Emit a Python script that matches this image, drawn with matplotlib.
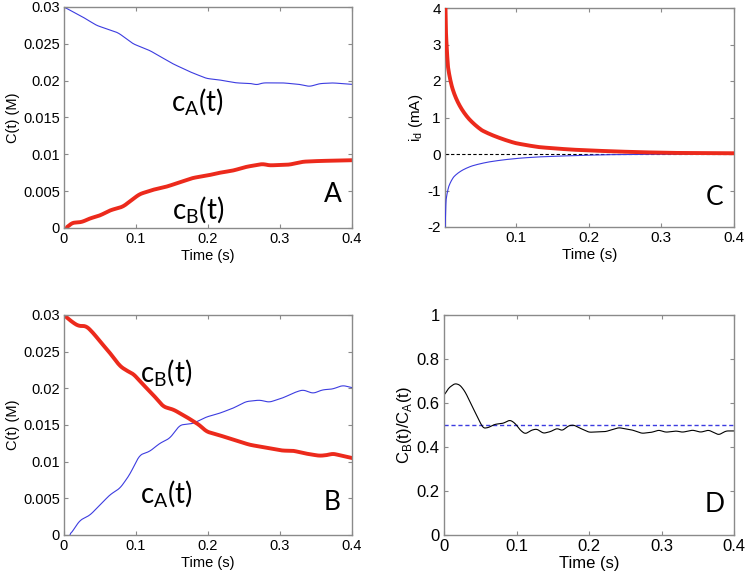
import numpy as np
import matplotlib
matplotlib.use("Agg")
import matplotlib.pyplot as plt

# ---------------- data ----------------
# Panel A
tA_blue = [0.0, 0.0268, 0.0453, 0.0753, 0.096, 0.119, 0.151, 0.175, 0.198, 0.216, 0.239,
           0.262, 0.267, 0.276, 0.304, 0.327, 0.341, 0.355, 0.373, 0.4]
cA_blue = [0.030, 0.0286, 0.0275, 0.0265, 0.0250, 0.0241, 0.0223, 0.0212, 0.0203, 0.0201, 0.0197,
           0.0196, 0.0194, 0.0197, 0.0197, 0.0195, 0.0192, 0.0196, 0.0197, 0.0195]
tA_red = [0.0037, 0.0106, 0.0245, 0.036, 0.05, 0.064, 0.082, 0.094, 0.105, 0.124, 0.142, 0.161,
          0.179, 0.198, 0.216, 0.235, 0.253, 0.276, 0.285, 0.313, 0.332, 0.355, 0.4]
cB_red = [0.0, 0.0007, 0.0008, 0.0013, 0.0017, 0.0024, 0.0029, 0.0038, 0.0046, 0.0052, 0.0056, 0.0062,
          0.0068, 0.0071, 0.0075, 0.0078, 0.0083, 0.0087, 0.0085, 0.0086, 0.0090, 0.0091, 0.0092]

# Panel C
tC_red = [0.0025, 0.0037, 0.0064, 0.0119, 0.021, 0.0349, 0.053, 0.076, 0.099, 0.131, 0.177,
          0.223, 0.269, 0.315, 0.4]
iC_red = [4.5, 3.3, 2.39, 1.84, 1.38, 0.97, 0.65, 0.45, 0.30, 0.19, 0.12, 0.08, 0.05, 0.03, 0.02]
tC_blue = [0.0025, 0.0037, 0.0073, 0.0142, 0.0257, 0.039, 0.062, 0.085, 0.108, 0.131, 0.177,
           0.223, 0.269, 0.4]
iC_blue = [-2.0, -1.27, -0.9, -0.63, -0.45, -0.33, -0.22, -0.155, -0.11, -0.08, -0.046,
           -0.02, -0.01, 0.0]

# Panel B
tB_red = [0.0, 0.0106, 0.0199, 0.031, 0.041, 0.050, 0.064, 0.078, 0.089, 0.096, 0.11, 0.124, 0.138,
          0.152, 0.17, 0.188, 0.198, 0.216, 0.235, 0.258, 0.281, 0.304, 0.318, 0.336, 0.355, 0.366,
          0.373, 0.4]
cB_redB = [0.030, 0.0291, 0.0285, 0.0285, 0.0275, 0.0264, 0.0248, 0.0230, 0.0223, 0.0220, 0.0205,
           0.0191, 0.0175, 0.0171, 0.0161, 0.0150, 0.0141, 0.0136, 0.0130, 0.0123, 0.0119, 0.0115,
           0.0115, 0.0111, 0.0108, 0.0109, 0.0111, 0.0105]
tB_blue = [0.0083, 0.022, 0.036, 0.05, 0.064, 0.078, 0.091, 0.105, 0.119, 0.133, 0.147, 0.161, 0.179,
           0.198, 0.216, 0.235, 0.253, 0.272, 0.285, 0.304, 0.322, 0.332, 0.346, 0.359, 0.373, 0.387, 0.4]
cA_blueB = [0.0, 0.0020, 0.0027, 0.0041, 0.0055, 0.0064, 0.0082, 0.0109, 0.0114, 0.0125, 0.0132,
            0.0150, 0.0152, 0.0161, 0.0166, 0.0173, 0.0182, 0.0184, 0.0181, 0.0187, 0.0195, 0.0198,
            0.0193, 0.0198, 0.0199, 0.0204, 0.0201]

# Panel D
tD = [0.0, 0.006, 0.015, 0.022, 0.029, 0.038, 0.047, 0.054, 0.061, 0.07, 0.082, 0.091, 0.098, 0.105,
      0.112, 0.121, 0.128, 0.137, 0.147, 0.156, 0.163, 0.172, 0.179, 0.186, 0.2, 0.223, 0.241, 0.26,
      0.273, 0.287, 0.296, 0.306, 0.32, 0.329, 0.343, 0.354, 0.365, 0.379, 0.389, 0.4]
ratioD = [0.633, 0.667, 0.689, 0.682, 0.652, 0.591, 0.53, 0.485, 0.488, 0.503, 0.508, 0.523, 0.508,
          0.477, 0.459, 0.477, 0.482, 0.462, 0.47, 0.485, 0.474, 0.497, 0.5, 0.488, 0.467, 0.47,
          0.488, 0.477, 0.462, 0.467, 0.477, 0.467, 0.473, 0.467, 0.477, 0.467, 0.477, 0.455, 0.473, 0.473]
ratio_ref = 0.5

xticks_full = [0, 0.1, 0.2, 0.3, 0.4]
xticklabels_full = ["0", "0.1", "0.2", "0.3", "0.4"]
xticks_C = [0.1, 0.2, 0.3, 0.4]
xticklabels_C = ["0.1", "0.2", "0.3", "0.4"]
yticks_conc = [0, 0.005, 0.01, 0.015, 0.02, 0.025, 0.03]
yticklabels_conc = ["0", "0.005", "0.01", "0.015", "0.02", "0.025", "0.03"]
yticks_C = [-2, -1, 0, 1, 2, 3, 4]
yticklabels_C = ["-2", "-1", "0", "1", "2", "3", "4"]
yticks_D = [0, 0.2, 0.4, 0.6, 0.8, 1]
yticklabels_D = ["0", "0.2", "0.4", "0.6", "0.8", "1"]

# ---------------- style ----------------
RED = "#ec2a1c"
BLUE = "#3c3ce0"
FRAME = "#8a8a8a"
TXTFONT = ["Liberation Sans", "DejaVu Sans"]
ANNFONT = ["Lato", "DejaVu Sans"]

plt.rcParams["font.family"] = TXTFONT

fig = plt.figure(figsize=(7.45, 5.76), dpi=100)


def smooth_line(x, y, n=400):
    x = np.asarray(x, float)
    y = np.asarray(y, float)
    xs = np.linspace(x[0], x[-1], n)
    ys = np.interp(xs, x, y)
    k = 9
    ker = np.ones(k) / k
    ypad = np.concatenate([np.full(k // 2, ys[0]), ys, np.full(k // 2, ys[-1])])
    ys2 = np.convolve(ypad, ker, mode="valid")
    ys2[0] = ys[0]
    ys2[-1] = ys[-1]
    return xs, ys2


def log_line(x, y, n=600):
    # smooth interpolation along log-time for the decaying currents
    x = np.asarray(x, float)
    y = np.asarray(y, float)
    lx = np.log(x)
    ls = np.linspace(lx[0], lx[-1], n)
    ys = np.interp(ls, lx, y)
    k = 5
    ker = np.ones(k) / k
    h = k // 2
    left = ys[0] - (ys[1] - ys[0]) * np.arange(h, 0, -1)
    right = np.full(h, ys[-1])
    ypad = np.concatenate([left, ys, right])
    ys2 = np.convolve(ypad, ker, mode="valid")
    return np.exp(ls), ys2


def style(ax, fs):
    for s in ax.spines.values():
        s.set_color(FRAME)
        s.set_linewidth(1.0)
    ax.tick_params(direction="in", length=3, width=0.8, color=FRAME, top=True, right=True,
                   labelsize=fs, labelcolor="black", pad=3)


# Panel A
axA = fig.add_axes([64 / 745, 1 - 228 / 576, (352 - 64) / 745, (228 - 7) / 576])
x, y = smooth_line(tA_blue, cA_blue)
axA.plot(x, y, color=BLUE, lw=0.8)
x, y = smooth_line(tA_red, cB_red)
axA.plot(x, y, color=RED, lw=2.8)
axA.set_xlim(0, 0.4)
axA.set_ylim(0, 0.03)
axA.set_xticks(xticks_full, xticklabels_full)
axA.set_yticks(yticks_conc, yticklabels_conc)
axA.set_xlabel("Time (s)", fontsize=10.5, labelpad=2)
axA.set_ylabel("C(t) (M)", fontsize=10.5, labelpad=2)
style(axA, 10.5)
axA.text(0.186, 0.0171, r"c$_\mathregular{A}$(t)", fontsize=20, family=ANNFONT, ha="center", va="center")
axA.text(0.186, 0.0024, r"c$_\mathregular{B}$(t)", fontsize=20, family=ANNFONT, ha="center", va="center")
axA.text(0.373, 0.0045, "A", fontsize=19, family=ANNFONT, ha="center", va="center")

# Panel C
axC = fig.add_axes([445 / 745, 1 - 227 / 576, (734 - 445) / 745, (227 - 8) / 576])
axC.axhline(0, color="black", lw=0.8, ls=(0, (3, 2)))
x, y = log_line(tC_blue, iC_blue)
axC.plot(x, y, color=BLUE, lw=0.8, zorder=3)
x, y = log_line(tC_red, iC_red)
axC.plot(x, y, color=RED, lw=2.8, zorder=3)
axC.set_xlim(0.0023, 0.4)
axC.set_ylim(-2, 4)
axC.set_xticks(xticks_C, xticklabels_C)
axC.set_yticks(yticks_C, yticklabels_C)
axC.set_xlabel("Time (s)", fontsize=11, labelpad=2)
axC.set_ylabel(r"i$_\mathregular{d}$ (mA)", fontsize=11, labelpad=2)
style(axC, 11)
axC.text(0.373, -1.2, "C", fontsize=19, family=ANNFONT, ha="center", va="center")

# Panel B
axB = fig.add_axes([64 / 745, 1 - 535 / 576, (352 - 64) / 745, (535 - 315) / 576])
x, y = smooth_line(tB_blue, cA_blueB)
axB.plot(x, y, color=BLUE, lw=0.8)
x, y = smooth_line(tB_red, cB_redB)
axB.plot(x, y, color=RED, lw=2.8)
axB.set_xlim(0, 0.4)
axB.set_ylim(0, 0.03)
axB.set_xticks(xticks_full, xticklabels_full)
axB.set_yticks(yticks_conc, yticklabels_conc)
axB.set_xlabel("Time (s)", fontsize=10.5, labelpad=2)
axB.set_ylabel("C(t) (M)", fontsize=10.5, labelpad=2)
style(axB, 10.5)
axB.text(0.142, 0.022, r"c$_\mathregular{B}$(t)", fontsize=20, family=ANNFONT, ha="center", va="center")
axB.text(0.142, 0.0055, r"c$_\mathregular{A}$(t)", fontsize=20, family=ANNFONT, ha="center", va="center")
axB.text(0.373, 0.0045, "B", fontsize=19, family=ANNFONT, ha="center", va="center")

# Panel D
axD = fig.add_axes([444 / 745, 1 - 535 / 576, (734 - 444) / 745, (535 - 315) / 576])
axD.axhline(ratio_ref, color=BLUE, lw=1.0, ls=(0, (3, 2)))
x, y = smooth_line(tD, ratioD, n=600)
axD.plot(x, y, color="black", lw=0.8)
axD.set_xlim(0, 0.4)
axD.set_ylim(0, 1)
axD.set_xticks(xticks_full, xticklabels_full)
axD.set_yticks(yticks_D, yticklabels_D)
axD.set_xlabel("Time (s)", fontsize=12, labelpad=1)
axD.set_ylabel(r"C$_\mathregular{B}$(t)/C$_\mathregular{A}$(t)", fontsize=12, labelpad=2)
style(axD, 12)
axD.text(0.373, 0.14, "D", fontsize=19, family=ANNFONT, ha="center", va="center")

fig.savefig("out.png", dpi=100)
